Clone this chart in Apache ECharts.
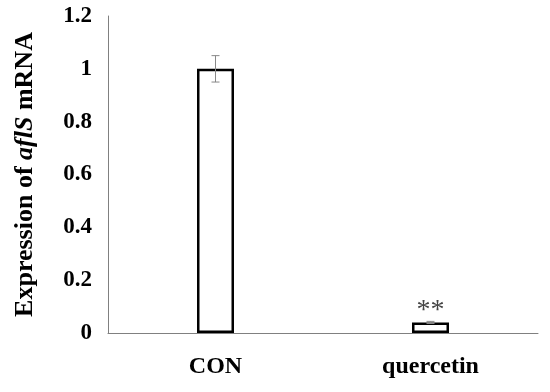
<!DOCTYPE html>
<html>
<head>
<meta charset="utf-8">
<script src="https://cdn.jsdelivr.net/npm/echarts@6/dist/echarts.min.js"></script>
<style>html,body{margin:0;padding:0;background:#fff}#c{width:550px;height:392px}</style>
</head>
<body>
<div id="c"></div>
<script>
var categories = ['CON', 'quercetin'];
var values = [1.0, 0.04];
var errors = [0.05, 0.004];
var significance = ['', '**'];
var yTicks = [0, 0.2, 0.4, 0.6, 0.8, 1, 1.2];

var chart = echarts.init(document.getElementById('c'));
var serif = '"Liberation Serif", "Times New Roman", serif';
chart.setOption({
  animation: false,
  grid: { left: 108, right: 12, top: 16, bottom: 59 },
  xAxis: {
    type: 'category',
    data: categories,
    axisLine: { lineStyle: { color: '#808080', width: 1 } },
    axisTick: { show: false },
    axisLabel: { margin: 22, fontFamily: serif, fontWeight: 'bold', fontSize: 24, color: '#000' }
  },
  yAxis: {
    type: 'value',
    min: 0, max: 1.2, interval: 0.2,
    splitLine: { show: false },
    axisLine: { show: true, lineStyle: { color: '#808080', width: 1 } },
    axisTick: { show: false },
    axisLabel: {
      margin: 16, fontFamily: serif, fontWeight: 'bold', fontSize: 23, color: '#000',
      formatter: function (v) { return String(Math.round(v * 10) / 10); }
    },
    name: '{a|Expression of }{b|aflS}{a| mRNA}',
    nameLocation: 'middle',
    nameGap: 70,
    nameRotate: 90,
    nameTextStyle: {
      rich: {
        a: { fontFamily: serif, fontWeight: 'bold', fontSize: 26, color: '#000' },
        b: { fontFamily: serif, fontWeight: 'bold', fontStyle: 'italic', fontSize: 26, color: '#000' }
      }
    }
  },
  series: [
    {
      type: 'bar',
      barWidth: 37,
      data: values.map(function (v, i) {
        return {
          value: v,
          label: {
            show: !!significance[i], position: 'top', distance: -2,
            formatter: significance[i], fontFamily: serif, fontSize: 28, color: '#444'
          }
        };
      }),
      itemStyle: { color: '#fff', borderColor: '#000', borderWidth: 2.5 }
    },
    {
      type: 'custom',
      data: values.map(function (v, i) { return [i, v - errors[i], v + errors[i]]; }),
      renderItem: function (params, api) {
        var lo = api.coord([api.value(0), api.value(1)]);
        var hi = api.coord([api.value(0), api.value(2)]);
        var x = lo[0], w = 4;
        var st = { stroke: '#888', lineWidth: 1 };
        return {
          type: 'group',
          children: [
            { type: 'line', shape: { x1: x, y1: lo[1], x2: x, y2: hi[1] }, style: st },
            { type: 'line', shape: { x1: x - w, y1: lo[1], x2: x + w, y2: lo[1] }, style: st },
            { type: 'line', shape: { x1: x - w, y1: hi[1], x2: x + w, y2: hi[1] }, style: st }
          ]
        };
      },
      z: 5
    }
  ]
});
</script>
</body>
</html>
